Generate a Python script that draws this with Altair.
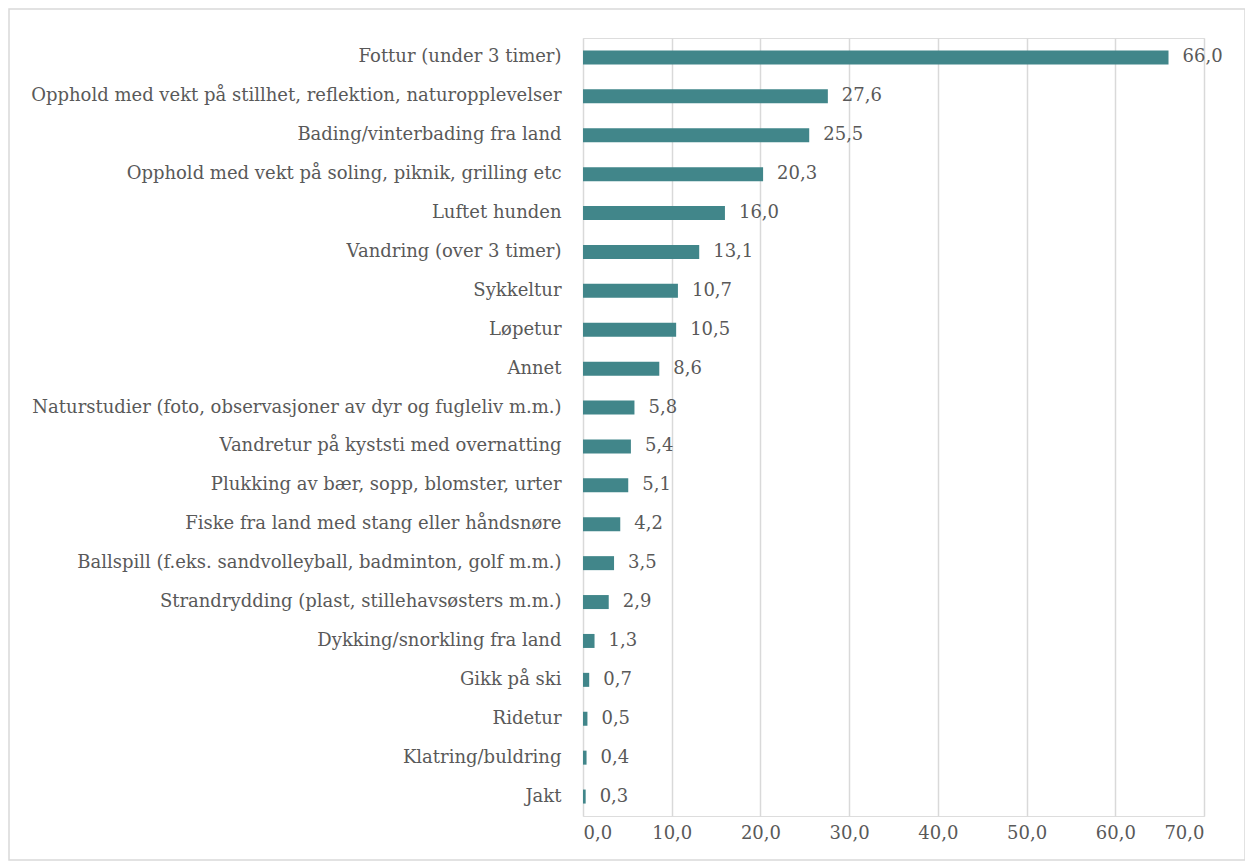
import altair as alt
import pandas as pd

categories = [
    "Fottur (under 3 timer)",
    "Opphold med vekt på stillhet, reflektion, naturopplevelser",
    "Bading/vinterbading fra land",
    "Opphold med vekt på soling, piknik, grilling etc",
    "Luftet hunden",
    "Vandring (over 3 timer)",
    "Sykkeltur",
    "Løpetur",
    "Annet",
    "Naturstudier (foto, observasjoner av dyr og fugleliv m.m.)",
    "Vandretur på kyststi med overnatting",
    "Plukking av bær, sopp, blomster, urter",
    "Fiske fra land med stang eller håndsnøre",
    "Ballspill (f.eks. sandvolleyball, badminton, golf m.m.)",
    "Strandrydding (plast, stillehavsøsters m.m.)",
    "Dykking/snorkling fra land",
    "Gikk på ski",
    "Ridetur",
    "Klatring/buldring",
    "Jakt",
]
values = [66.0, 27.6, 25.5, 20.3, 16.0, 13.1, 10.7, 10.5, 8.6, 5.8, 5.4, 5.1, 4.2, 3.5, 2.9, 1.3, 0.7, 0.5, 0.4, 0.3]
x_ticks = [0, 10, 20, 30, 40, 50, 60, 70]

df = pd.DataFrame({"kategori": categories, "verdi": values})
df["etikett"] = [f"{v:.1f}".replace(".", ",") for v in values]

FONT = "DejaVu Serif"
FS = 18
TXT = "#595959"
W, H = 621, 778

base = alt.Chart(df).encode(
    y=alt.Y("kategori:N", sort=categories, title=None,
            scale=alt.Scale(paddingInner=0.64, paddingOuter=0.32),
            axis=alt.Axis(labelFont=FONT, labelFontSize=FS, labelColor=TXT,
                          labelPadding=22, ticks=False, domain=False, labelLimit=600)),
    x=alt.X("verdi:Q", title=None,
            scale=alt.Scale(domain=[0, 70], nice=False),
            axis=alt.Axis(values=x_ticks, labelExpr="replace(format(datum.value, '.1f'), '.', ',')",
                          labelFont=FONT, labelFontSize=FS, labelColor=TXT, labelPadding=8,
                          ticks=False, domain=False, grid=True, gridColor="#d9d9d9", gridWidth=1.5)),
)

bars = base.mark_bar(color="#41868A")
labels = base.mark_text(align="left", baseline="middle", dx=14, font=FONT, fontSize=FS, color=TXT).encode(
    text="etikett:N")

border = alt.Chart(pd.DataFrame({"a": [0]})).mark_rect(
    fill=None, stroke="#d9d9d9", strokeWidth=1.5, clip=False
).encode(x=alt.value(-574), x2=alt.value(W + 41), y=alt.value(-29), y2=alt.value(H + 44))

chart = alt.layer(border, bars, labels).properties(
    width=W, height=H,
    autosize=alt.AutoSizeParams(type="none"),
    padding={"left": 575, "top": 30, "right": 41, "bottom": 45},
).configure_view(stroke=None).configure(background="white")

chart.save("out.html", embed_options={"renderer": "svg", "actions": False})
